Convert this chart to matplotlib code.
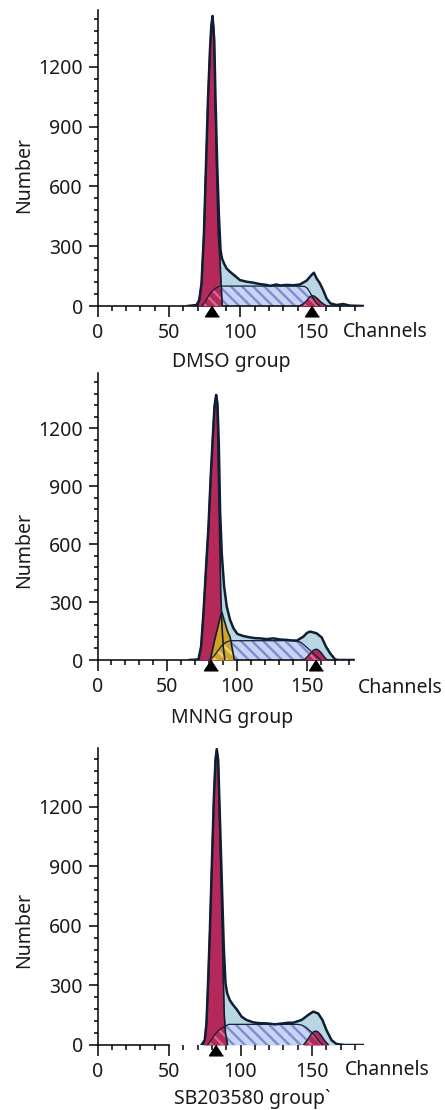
import matplotlib
matplotlib.use('Agg')
import matplotlib.pyplot as plt
from matplotlib.transforms import ScaledTranslation
from matplotlib.ticker import FixedLocator

plt.rcParams['font.family'] = ['Noto Sans', 'DejaVu Sans']
plt.rcParams['hatch.linewidth'] = 1.7

# ---------------- data ----------------
x_major = [0, 50, 100, 150]
x_minor = [10, 20, 30, 40, 60, 70, 80, 90, 110, 120, 130, 140, 160, 170, 180]
y_major = [0, 300, 600, 900, 1200]
y_minor = [60, 120, 180, 240, 360, 420, 480, 540, 660, 720, 780, 840,
           960, 1020, 1080, 1140, 1260, 1320, 1380, 1440]
x_label = "Channels"
y_label = "Number"
group_names = ["DMSO group", "MNNG group", "SB203580 group`"]

# DMSO
dmso_total_ch = [63, 69.3, 71.2, 72.8, 74.5, 75.9, 77.3, 78.7, 79.6, 80.5, 81.7, 82.6, 83.8, 85.0,
                 86.1, 87.1, 88.5, 90.3, 92.7, 96.2, 99.7, 104.3, 109, 113.6, 118, 121, 125, 128,
                 132.3, 137, 141.6, 146.3, 149.8, 151.4, 153.3, 155.6, 157.9, 160.3, 163, 167.3,
                 171.9, 176.6, 186]
dmso_total_n = [0, 5, 30, 114, 365, 700, 1034, 1285, 1402, 1456, 1335, 1034, 700, 448,
                281, 239, 214, 189, 172, 151, 130, 122, 117, 110, 106, 101, 108, 103,
                106, 104, 108, 127, 156, 167, 139, 114, 80, 38, 13, 5,
                10, 2, 0]
dmso_g1_ch = [70, 71.2, 72.8, 74.5, 75.9, 77.3, 78.7, 79.6, 80.5, 81.5, 82.4, 83.3, 84.5, 85.7, 86.5, 87.3]
dmso_g1_n = [0, 28, 112, 362, 697, 1030, 1282, 1400, 1456, 1380, 1034, 700, 365, 231, 110, 0]
dmso_s_ch = [73, 75, 77, 79, 81, 83, 85, 87, 100, 120, 140, 145, 147, 149, 151, 153, 155.5]
dmso_s_n = [0, 18, 42, 64, 80, 91, 97, 100, 100, 100, 100, 98, 88, 64, 38, 15, 0]
dmso_g2_ch = [141, 144, 146.5, 148.5, 150, 151.5, 153.5, 156, 158.5, 160.5]
dmso_g2_n = [0, 10, 28, 45, 52, 50, 40, 22, 8, 0]
dmso_marks = [80, 150]

# MNNG
mnng_total_ch = [65.9, 72.3, 74.2, 75.9, 77.8, 79.5, 81.1, 82.6, 83.8, 85.0, 85.9, 86.9, 87.8, 89.0,
                 90.7, 92.6, 95.0, 97.4, 100.2, 104.5, 109.3, 113, 116.5, 121, 126, 131, 135.6,
                 139, 142.7, 147.5, 150, 152.3, 154.5, 157.0, 160.6, 163.7, 166.6, 170.2, 172.6, 183.4]
mnng_total_n = [0, 3, 69, 242, 484, 691, 950, 1157, 1313, 1373, 1330, 1123, 777, 553,
                380, 276, 207, 164, 135, 124, 117, 113, 112, 108, 112, 106, 104,
                101, 100, 121, 140, 147, 143, 138, 117, 69, 35, 3, 0, 0]
mnng_g1_ch = [72.3, 74.2, 75.9, 77.8, 79.5, 81.1, 82.6, 83.8, 85.0, 85.9, 86.4, 87.4, 88.3, 89.2, 90.2, 91.2]
mnng_g1_n = [0, 67, 240, 480, 688, 947, 1154, 1310, 1373, 1320, 1036, 691, 345, 170, 60, 0]
mnng_ap_ch = [80.7, 82, 83.5, 85, 86.5, 88, 89.1, 91, 93, 95, 96.5, 98]
mnng_ap_n = [0, 40, 90, 135, 180, 225, 248, 200, 152, 118, 60, 0]
mnng_s_ch = [80.5, 83, 86, 89, 92, 95, 110, 130, 142, 146, 150, 153.5, 157, 160]
mnng_s_n = [0, 17, 45, 75, 92, 100, 100, 100, 102, 90, 65, 42, 18, 0]
mnng_g2_ch = [148, 150.5, 153, 155, 156.7, 158.5, 160.5, 162.5, 164.5]
mnng_g2_n = [0, 18, 38, 52, 56, 50, 35, 15, 0]
mnng_marks = [81.2, 156.7]

# SB203580
sb_total_ch = [72.7, 75.0, 76.2, 77.4, 78.6, 80.0, 81.4, 82.5, 83.4, 84.4, 85.5, 86.9, 88.3, 89.5,
               90.7, 92.5, 94.9, 97.7, 100.7, 104.2, 108.9, 113, 118.2, 124, 129.8, 133, 136.8,
               142.7, 147.3, 150.8, 154.3, 157.3, 160.1, 163.6, 167.1, 173, 185.6]
sb_total_n = [0, 25, 109, 327, 579, 914, 1250, 1435, 1490, 1435, 1166, 830, 495, 310,
              260, 226, 201, 176, 143, 126, 114, 110, 109, 104, 109, 112, 112,
              126, 151, 168, 159, 126, 75, 25, 5, 0, 0]
sb_g1_ch = [74, 75.0, 76.2, 77.4, 78.6, 80.0, 81.4, 82.5, 83.4, 84.4, 85.5, 86.5, 87.3, 88.0, 88.6, 89.5, 91]
sb_g1_n = [0, 23, 106, 324, 576, 910, 1246, 1432, 1490, 1430, 1100, 800, 560, 330, 160, 60, 0]
sb_s_ch = [77, 79.5, 82, 84.5, 87, 89.5, 92, 110, 130, 140, 143, 146, 149.5, 152, 154.5, 157.5]
sb_s_n = [0, 25, 52, 72, 86, 97, 104, 104, 104, 104, 100, 88, 66, 45, 22, 0]
sb_g2_ch = [144, 146.5, 149, 151, 152.5, 154, 156, 158.5, 161.5]
sb_g2_n = [0, 22, 50, 66, 70, 67, 52, 25, 0]
sb_marks = [82.6]

# ---------------- styling / layout ----------------
W, H = 445, 1110
LIGHT = '#b9d7e3'
CRIMSON = '#b5285a'
CRIMSON_STRIPE = '#d8678f'
GOLD = '#d2a322'
GOLD_STRIPE = '#ecd27a'
S_FACE = '#c9d3f2'
S_HATCH = '#7b8dd4'
DARK = '#0f1f33'
TXT = '#1a1a1a'
HATCH = '\\\\\\'
FS = 14

fig = plt.figure(figsize=(W / 100, H / 100), dpi=100)

panel_layout = [
    dict(left=97.5, y0=306, ytop=9.5, xs=1.429, xend=186, gap=False,
         title_xy=(231, 362), chan_xy=(385, 332), num_y=175),
    dict(left=97.5, y0=660, ytop=373.3, xs=1.396, xend=183.4, gap=False,
         title_xy=(232, 718), chan_xy=(400, 688), num_y=550),
    dict(left=97.5, y0=1045, ytop=748.3, xs=1.43, xend=185.6, gap=True,
         title_xy=(252, 1099), chan_xy=(387, 1070), num_y=930),
]
y_px_per_unit = [0.1992, 0.1931, 0.1986]

panel_data = [
    dict(tx=dmso_total_ch, ty=dmso_total_n, g1x=dmso_g1_ch, g1y=dmso_g1_n, sx=dmso_s_ch, sy=dmso_s_n,
         g2x=dmso_g2_ch, g2y=dmso_g2_n, apx=None, apy=None, marks=dmso_marks),
    dict(tx=mnng_total_ch, ty=mnng_total_n, g1x=mnng_g1_ch, g1y=mnng_g1_n, sx=mnng_s_ch, sy=mnng_s_n,
         g2x=mnng_g2_ch, g2y=mnng_g2_n, apx=mnng_ap_ch, apy=mnng_ap_n, marks=mnng_marks),
    dict(tx=sb_total_ch, ty=sb_total_n, g1x=sb_g1_ch, g1y=sb_g1_n, sx=sb_s_ch, sy=sb_s_n,
         g2x=sb_g2_ch, g2y=sb_g2_n, apx=None, apy=None, marks=sb_marks),
]

AX_W = 266.0
tri = [(0, 1), (-1.3, -1), (1.3, -1)]


def striped_overlay(ax, sx, sy, comp, color):
    ov = ax.fill_between(sx, sy, facecolor='none', edgecolor=color, hatch=HATCH,
                         linewidth=0, zorder=5)
    ov.set_clip_path(comp.get_paths()[0], ax.transData)


for lay, ypu, d, name in zip(panel_layout, y_px_per_unit, panel_data, group_names):
    h_px = lay['y0'] - lay['ytop']
    ax = fig.add_axes([lay['left'] / W, 1 - lay['y0'] / H, AX_W / W, h_px / H])
    ax.set_facecolor('none')
    ax.set_xlim(0, AX_W / lay['xs'])
    ax.set_ylim(0, h_px / ypu)

    ax.fill_between(d['tx'], d['ty'], color=LIGHT, linewidth=0, zorder=1)
    ax.fill_between(d['sx'], d['sy'], facecolor=S_FACE, edgecolor=S_HATCH, hatch=HATCH,
                    linewidth=0, zorder=2)
    g1 = ax.fill_between(d['g1x'], d['g1y'], color=CRIMSON, linewidth=0, zorder=3)
    g2 = ax.fill_between(d['g2x'], d['g2y'], color=CRIMSON, linewidth=0, zorder=3)
    striped_overlay(ax, d['sx'], d['sy'], g1, CRIMSON_STRIPE)
    striped_overlay(ax, d['sx'], d['sy'], g2, CRIMSON_STRIPE)
    if d['apx'] is not None:
        ap = ax.fill_between(d['apx'], d['apy'], color=GOLD, linewidth=0, zorder=4)
        striped_overlay(ax, d['sx'], d['sy'], ap, GOLD_STRIPE)
        ax.plot(d['apx'], d['apy'], color=DARK, lw=1.2, zorder=6)

    ax.plot(d['sx'], d['sy'], color=DARK, lw=0.9, zorder=6)
    ax.plot(d['g1x'], d['g1y'], color=DARK, lw=1.2, zorder=6)
    ax.plot(d['g2x'], d['g2y'], color=DARK, lw=1.1, zorder=6)
    ax.plot(d['tx'], d['ty'], color=DARK, lw=1.8, zorder=7, solid_joinstyle='round')

    trans = ax.get_xaxis_transform() + ScaledTranslation(0, -0.054, fig.dpi_scale_trans)
    ax.plot(d['marks'], [0] * len(d['marks']), transform=trans, marker=tri, ms=10,
            ls='none', color='black', clip_on=False, zorder=10)

    for s in ('top', 'right'):
        ax.spines[s].set_visible(False)
    for s in ('left', 'bottom'):
        ax.spines[s].set_linewidth(1.1)
        ax.spines[s].set_color('black')
    if lay['gap']:
        ax.spines['bottom'].set_bounds(0, 50)
        ax.hlines(0, d['tx'][0], lay['xend'], color='black', lw=1.1, zorder=0.5)
    else:
        ax.spines['bottom'].set_bounds(0, lay['xend'])

    ax.xaxis.set_major_locator(FixedLocator(x_major))
    ax.xaxis.set_minor_locator(FixedLocator(x_minor))
    ax.yaxis.set_major_locator(FixedLocator(y_major))
    ax.yaxis.set_minor_locator(FixedLocator(y_minor))
    ax.set_xticklabels([str(v) for v in x_major])
    ax.set_yticklabels([str(v) for v in y_major])
    ax.tick_params(axis='x', which='major', direction='out', length=7.9, width=1.1,
                   pad=4.0, labelsize=FS, labelcolor=TXT)
    ax.tick_params(axis='x', which='minor', direction='out', length=3.6, width=1.1)
    ax.tick_params(axis='y', which='major', direction='out', length=6.6, width=1.1,
                   pad=4.0, labelsize=FS, labelcolor=TXT)
    ax.tick_params(axis='y', which='minor', direction='out', length=2.9, width=1.1)

    fig.text(lay['title_xy'][0] / W, 1 - lay['title_xy'][1] / H, name, ha='center', va='center',
             fontsize=FS, color=TXT)
    fig.text(lay['chan_xy'][0] / W, 1 - lay['chan_xy'][1] / H, x_label, ha='center', va='center',
             fontsize=FS, color=TXT)
    fig.text(24 / W, 1 - lay['num_y'] / H, y_label, ha='center', va='center', rotation=90,
             fontsize=FS, color=TXT)

fig.savefig('out.png', dpi=100, facecolor='white')
